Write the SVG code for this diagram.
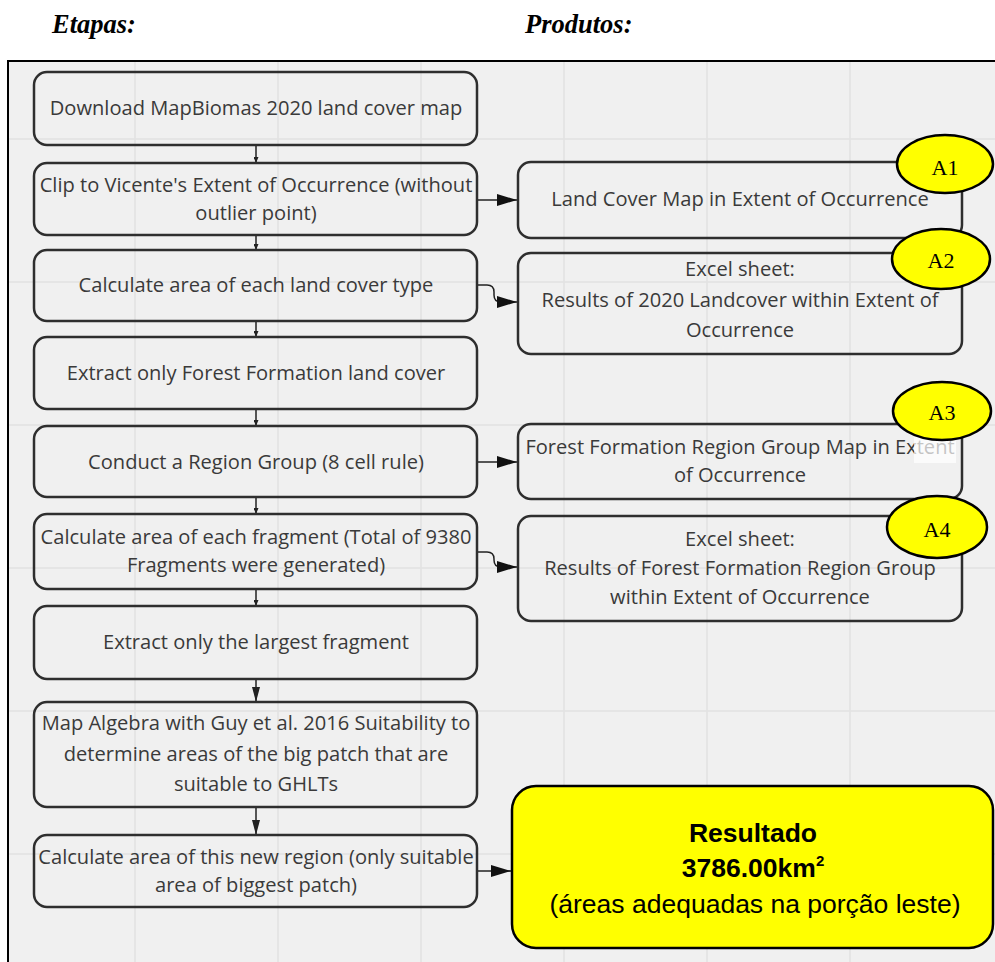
<svg xmlns="http://www.w3.org/2000/svg" width="995" height="962" viewBox="0 0 995 962">
<defs>
<style>
.hdr{font-family:"Liberation Serif",serif;font-weight:bold;font-style:italic;font-size:26.5px;fill:#000}
.box{fill:none;stroke:#2e2e2e;stroke-width:2.5}
.t{font-family:"Open Sans","DejaVu Sans",sans-serif;font-size:20.1px;fill:#3a3a3a;text-anchor:middle}
.ell{fill:#ffff00;stroke:#000;stroke-width:2.5}
.et{font-family:"Liberation Serif",serif;font-size:22px;fill:#000;text-anchor:middle}
.res{font-family:"Liberation Sans",Arial,sans-serif;font-size:26.5px;fill:#000;text-anchor:middle}
.grid{stroke:#e2e2e2;stroke-width:1.5}
.c{fill:none;stroke:#222;stroke-width:1.5}
</style>
<marker id="as" viewBox="0 0 6 5" refX="6" refY="2.5" markerWidth="6" markerHeight="5" markerUnits="userSpaceOnUse" orient="auto"><path d="M0,0 L6,2.5 L0,5 Z" fill="#222"/></marker>
<marker id="am" viewBox="0 0 15 8" refX="15" refY="4" markerWidth="15" markerHeight="8" markerUnits="userSpaceOnUse" orient="auto"><path d="M0,0 L15,4 L0,8 Z" fill="#222"/></marker>
<marker id="ah" viewBox="0 0 20 12" refX="20" refY="6" markerWidth="20" markerHeight="12" markerUnits="userSpaceOnUse" orient="auto"><path d="M0,0 L20,6 L0,12 Z" fill="#111"/></marker>
</defs>
<rect x="0" y="0" width="995" height="962" fill="#ffffff"/>
<text class="hdr" x="52" y="33">Etapas:</text>
<text class="hdr" x="525" y="33">Produtos:</text>
<rect x="8" y="61" width="1000" height="920" fill="#f0f0f0" stroke="#000" stroke-width="2"/>
<g id="grid">
<line class="grid" x1="135" y1="62" x2="135" y2="962"/>
<line class="grid" x1="278" y1="62" x2="278" y2="962"/>
<line class="grid" x1="421" y1="62" x2="421" y2="962"/>
<line class="grid" x1="564" y1="62" x2="564" y2="962"/>
<line class="grid" x1="707" y1="62" x2="707" y2="962"/>
<line class="grid" x1="850" y1="62" x2="850" y2="962"/>
<line class="grid" x1="9" y1="139" x2="995" y2="139"/>
<line class="grid" x1="9" y1="282" x2="995" y2="282"/>
<line class="grid" x1="9" y1="425" x2="995" y2="425"/>
<line class="grid" x1="9" y1="568" x2="995" y2="568"/>
<line class="grid" x1="9" y1="711" x2="995" y2="711"/>
<line class="grid" x1="9" y1="854" x2="995" y2="854"/>
</g>
<g id="connectors">
<path class="c" d="M256 146 V163" marker-end="url(#as)"/>
<path class="c" d="M256 236 V250" marker-end="url(#as)"/>
<path class="c" d="M256 322 V337" marker-end="url(#as)"/>
<path class="c" d="M256 410 V426" marker-end="url(#as)"/>
<path class="c" d="M256 498 V514" marker-end="url(#as)"/>
<path class="c" d="M256 590 V606" marker-end="url(#as)"/>
<path class="c" d="M256 680 V702" marker-end="url(#am)"/>
<path class="c" d="M256 808 V835" marker-end="url(#am)"/>
<path class="c" d="M478 200 H517" marker-end="url(#ah)"/>
<path class="c" d="M478 285 H487 Q494 285 494 292 V295 Q494 302 501 302 H517" marker-end="url(#ah)"/>
<path class="c" d="M478 462 H517" marker-end="url(#ah)"/>
<path class="c" d="M478 552 H487 Q494 552 494 559 V560 Q494 567 501 567 H517" marker-end="url(#ah)"/>
<path class="c" d="M478 871 H511" marker-end="url(#ah)"/>
</g>
<g id="step1"><rect class="box" x="34" y="72" width="443" height="73" rx="13"/><text class="t" x="256" y="115">Download MapBiomas 2020 land cover map</text></g>
<g id="step2"><rect class="box" x="34" y="163" width="443" height="72" rx="13"/><text class="t" x="256" y="192">Clip to Vicente's Extent of Occurrence (without</text><text class="t" x="256" y="220">outlier point)</text></g>
<g id="step3"><rect class="box" x="34" y="250" width="443" height="71" rx="13"/><text class="t" x="256" y="292">Calculate area of each land cover type</text></g>
<g id="step4"><rect class="box" x="34" y="337" width="443" height="72" rx="13"/><text class="t" x="256" y="380">Extract only Forest Formation land cover</text></g>
<g id="step5"><rect class="box" x="34" y="426" width="443" height="71" rx="13"/><text class="t" x="256" y="469">Conduct a Region Group (8 cell rule)</text></g>
<g id="step6"><rect class="box" x="34" y="514" width="443" height="75" rx="13"/><text class="t" x="256" y="544">Calculate area of each fragment (Total of 9380</text><text class="t" x="256" y="572">Fragments were generated)</text></g>
<g id="step7"><rect class="box" x="34" y="606" width="443" height="73" rx="13"/><text class="t" x="256" y="649">Extract only the largest fragment</text></g>
<g id="step8"><rect class="box" x="34" y="702" width="443" height="105" rx="13"/><text class="t" x="256" y="730">Map Algebra with Guy et al. 2016 Suitability to</text><text class="t" x="256" y="761">determine areas of the big patch that are</text><text class="t" x="256" y="791">suitable to GHLTs</text></g>
<g id="step9"><rect class="box" x="34" y="835" width="443" height="72" rx="13"/><text class="t" x="256" y="864">Calculate area of this new region (only suitable</text><text class="t" x="256" y="892">area of biggest patch)</text></g>
<g id="prod1"><rect class="box" x="518" y="162" width="444" height="76" rx="13"/><text class="t" x="740" y="206">Land Cover Map in Extent of Occurrence</text></g>
<g id="prod2"><rect class="box" x="518" y="253" width="444" height="101" rx="13"/><text class="t" x="740" y="276">Excel sheet:</text><text class="t" x="740" y="307">Results of 2020 Landcover within Extent of</text><text class="t" x="740" y="337">Occurrence</text></g>
<g id="prod3"><rect class="box" x="518" y="424" width="444" height="75" rx="13"/><text class="t" x="740" y="454">Forest Formation Region Group Map in Extent</text><text class="t" x="740" y="482">of Occurrence</text><rect x="914" y="437" width="42" height="26" fill="#ffffff" fill-opacity="0.7"/></g>
<g id="prod4"><rect class="box" x="518" y="516" width="444" height="105" rx="13"/><text class="t" x="740" y="546">Excel sheet:</text><text class="t" x="740" y="575">Results of Forest Formation Region Group</text><text class="t" x="740" y="604">within Extent of Occurrence</text></g>
<g id="a1"><ellipse class="ell" cx="945" cy="164" rx="48" ry="29"/><text class="et" x="945" y="175">A1</text></g>
<g id="a2"><ellipse class="ell" cx="941" cy="259" rx="49" ry="30"/><text class="et" x="941" y="268">A2</text></g>
<g id="a3"><ellipse class="ell" cx="942" cy="411" rx="49" ry="29"/><text class="et" x="942" y="420">A3</text></g>
<g id="a4"><ellipse class="ell" cx="937" cy="527" rx="50" ry="31"/><text class="et" x="937" y="537">A4</text></g>
<g id="result"><rect x="512" y="786" width="481" height="162" rx="24" fill="#ffff00" stroke="#000" stroke-width="2.5"/><text class="res" x="753" y="842" font-weight="bold">Resultado</text><text class="res" x="753" y="877" font-weight="bold">3786.00km<tspan font-size="15" dy="-11">2</tspan></text><text class="res" x="755" y="913">(áreas adequadas na porção leste)</text></g>
</svg>
